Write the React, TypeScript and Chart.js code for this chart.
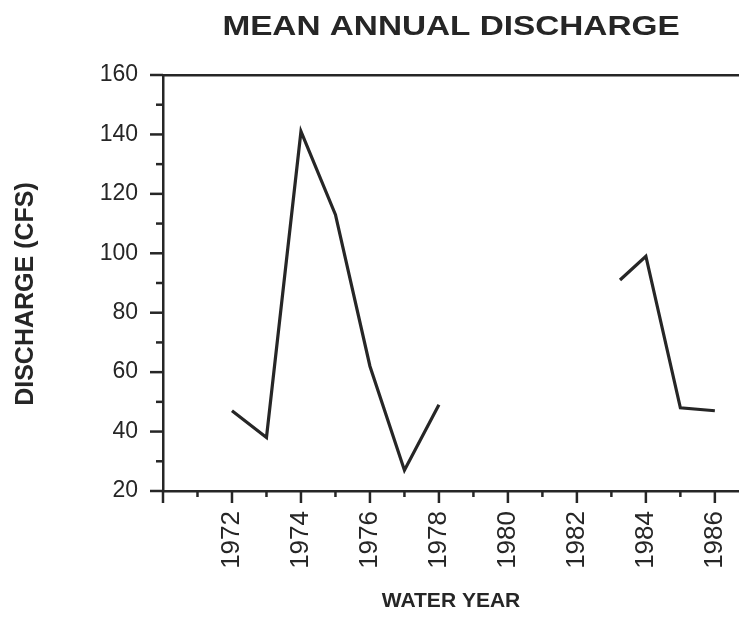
import React, { useEffect, useRef } from 'react';
import { Chart, registerables } from 'chart.js';

Chart.register(...registerables);

// Mean annual discharge by water year (null marks the missing record)
const years = [1972, 1973, 1974, 1975, 1976, 1977, 1978, 1980, 1983.25, 1984, 1985, 1986];
const discharge: (number | null)[] = [47, 38, 141, 113, 62, 27, 49, null, 91, 99, 48, 47];

const yearLabels = ['1972', '1974', '1976', '1978', '1980', '1982', '1984', '1986'];
const dischargeLabels = [20, 40, 60, 80, 100, 120, 140, 160];

const chartTitle = 'MEAN ANNUAL DISCHARGE';
const xTitle = 'WATER YEAR';
const yTitle = 'DISCHARGE (CFS)';

const INK = '#262626';
const FONT = '"Liberation Sans", Arial, sans-serif';

// Outward tick marks: long at labelled values, short in between
const tickMarks = {
  id: 'tickMarks',
  afterDraw(chart: any) {
    const { ctx } = chart;
    const xs = chart.scales.x;
    const ys = chart.scales.y;
    ctx.save();
    ctx.strokeStyle = INK;
    ctx.lineWidth = 2.5;
    ctx.lineCap = 'butt';
    ys.ticks.forEach((t: any) => {
      const py = ys.getPixelForValue(t.value);
      const len = dischargeLabels.includes(t.value) ? 13 : 7;
      ctx.beginPath();
      ctx.moveTo(ys.right - len, py);
      ctx.lineTo(ys.right, py);
      ctx.stroke();
    });
    xs.ticks.forEach((t: any) => {
      const px = xs.getPixelForValue(t.value);
      const len = t.value % 2 === 0 ? 12 : 6;
      ctx.beginPath();
      ctx.moveTo(px, xs.top);
      ctx.lineTo(px, xs.top + len);
      ctx.stroke();
    });
    ctx.restore();
  },
};

// Wide bold heading and the rotated y-axis title
const titles = {
  id: 'titles',
  afterDraw(chart: any) {
    const { ctx, chartArea } = chart;
    const cx = (chartArea.left + chartArea.right) / 2;
    ctx.save();
    ctx.fillStyle = INK;
    ctx.font = `bold 28px ${FONT}`;
    ctx.textAlign = 'center';
    ctx.textBaseline = 'alphabetic';
    ctx.translate(cx, 35);
    ctx.scale(1.19, 1);
    ctx.fillText(chartTitle, 0, 0);
    ctx.restore();

    ctx.save();
    ctx.fillStyle = INK;
    ctx.font = `bold 25px ${FONT}`;
    ctx.textAlign = 'center';
    ctx.textBaseline = 'middle';
    ctx.translate(26, (chartArea.top + chartArea.bottom) / 2 + 11);
    ctx.rotate(-Math.PI / 2);
    ctx.fillText(yTitle, 0, 0);
    ctx.restore();
  },
};

const noSidePadding = (s: any) => {
  s.paddingLeft = 0;
  s.paddingRight = 0;
};

export default function App() {
  const canvasRef = useRef<HTMLCanvasElement | null>(null);

  useEffect(() => {
    const canvas = canvasRef.current;
    if (!canvas) return;
    const chart = new Chart(canvas, {
      type: 'line',
      data: {
        datasets: [
          {
            data: years.map((yr, i) => ({ x: yr, y: discharge[i] })),
            borderColor: INK,
            borderWidth: 3.2,
            pointRadius: 0,
            tension: 0,
            spanGaps: false,
            borderJoinStyle: 'miter',
          },
        ],
      },
      options: {
        responsive: false,
        animation: false,
        layout: { padding: { top: 75, left: 0, right: 0, bottom: 0 } },
        plugins: {
          legend: { display: false },
          tooltip: { enabled: false },
          title: { display: false },
        },
        scales: {
          x: {
            type: 'linear',
            position: 'bottom',
            min: 1970,
            max: 1986.7,
            afterFit: (s: any) => {
              s.height = 128;
              noSidePadding(s);
            },
            grid: { display: false, drawTicks: false },
            border: { display: true, color: INK, width: 2.5 },
            ticks: {
              stepSize: 1,
              includeBounds: false,
              autoSkip: false,
              minRotation: 90,
              maxRotation: 90,
              padding: 20,
              color: INK,
              font: { family: FONT, size: 26 },
              callback: (v: any) => (yearLabels.includes(String(v)) ? String(v) : ''),
            },
            title: {
              display: true,
              text: xTitle,
              color: INK,
              font: { family: FONT, size: 21, weight: 'bold' },
              padding: { top: 0, bottom: 5 },
            },
          },
          xTop: {
            type: 'linear',
            position: 'top',
            min: 1970,
            max: 1986.7,
            afterFit: (s: any) => {
              s.height = 0;
              noSidePadding(s);
            },
            grid: { display: false, drawTicks: false },
            border: { display: true, color: INK, width: 2.5 },
            ticks: { display: false },
          },
          y: {
            type: 'linear',
            min: 20,
            max: 160,
            afterFit: (s: any) => {
              s.width = 163;
              s.paddingTop = 0;
              s.paddingBottom = 0;
            },
            grid: { display: false, drawTicks: false },
            border: { display: true, color: INK, width: 2.5 },
            ticks: {
              stepSize: 10,
              autoSkip: false,
              padding: 25,
              color: INK,
              font: { family: FONT, size: 23 },
              callback: (v: any) => (dischargeLabels.includes(Number(v)) ? String(v) : ''),
            },
          },
        },
      },
      plugins: [tickMarks, titles],
    });
    return () => chart.destroy();
  }, []);

  return (
    <div style={{ position: 'absolute', left: 0, top: 0, width: 739, height: 619, background: '#fff' }}>
      <canvas ref={canvasRef} width={739} height={619} style={{ display: 'block' }} />
    </div>
  );
}
